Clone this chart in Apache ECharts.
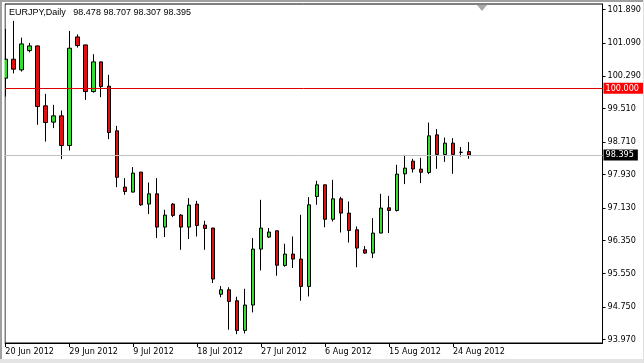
<!DOCTYPE html>
<html>
<head>
<meta charset="utf-8">
<script src="https://cdn.jsdelivr.net/npm/echarts@6/dist/echarts.min.js"></script>
<style>
html,body{margin:0;padding:0;background:#fff;}
#chart{width:644px;height:363px;}
</style>
</head>
<body>
<div id="chart"></div>
<script>
// Daily bars (MT4 style, includes Sunday bars)
const dates = ["20 Jun 2012","21 Jun 2012","22 Jun 2012","24 Jun 2012","25 Jun 2012","26 Jun 2012","27 Jun 2012","28 Jun 2012","29 Jun 2012",
"1 Jul 2012","2 Jul 2012","3 Jul 2012","4 Jul 2012","5 Jul 2012","6 Jul 2012","8 Jul 2012","9 Jul 2012","10 Jul 2012","11 Jul 2012","12 Jul 2012","13 Jul 2012",
"15 Jul 2012","16 Jul 2012","17 Jul 2012","18 Jul 2012","19 Jul 2012","20 Jul 2012","22 Jul 2012","23 Jul 2012","24 Jul 2012","25 Jul 2012","26 Jul 2012","27 Jul 2012",
"29 Jul 2012","30 Jul 2012","31 Jul 2012","1 Aug 2012","2 Aug 2012","3 Aug 2012","5 Aug 2012","6 Aug 2012","7 Aug 2012","8 Aug 2012","9 Aug 2012","10 Aug 2012",
"12 Aug 2012","13 Aug 2012","14 Aug 2012","15 Aug 2012","16 Aug 2012","17 Aug 2012","19 Aug 2012","20 Aug 2012","21 Aug 2012","22 Aug 2012","23 Aug 2012","24 Aug 2012",
"26 Aug 2012","27 Aug 2012"];
const open  = [100.240,100.695,100.439,100.902,101.014,99.576,99.185,99.336,98.624,101.230,101.038,99.918,100.631,100.048,98.976,97.626,97.506,97.986,97.218,97.465,96.667,97.218,96.954,96.667,97.218,96.715,96.643,95.055,95.163,94.899,94.187,94.796,96.139,96.427,96.578,95.746,96.019,95.899,95.242,97.400,97.681,96.854,97.345,97.002,96.602,96.122,96.043,96.523,97.129,97.065,97.945,98.249,98.058,97.976,98.880,98.408,98.681,98.460,98.478];
const high  = [101.422,101.614,101.213,101.086,101.020,99.863,99.600,99.463,101.374,101.290,101.045,100.815,100.640,100.319,99.096,97.842,98.106,97.990,97.736,97.842,97.082,97.242,96.978,97.362,97.297,96.818,96.650,95.252,95.223,94.995,95.187,96.403,97.321,96.645,96.585,96.266,96.441,96.962,97.386,97.777,97.685,97.801,97.393,97.281,96.681,96.211,96.882,97.465,97.417,98.161,98.400,98.305,98.329,99.175,99.017,98.815,98.801,98.588,98.707];
const low   = [99.799,100.355,100.398,100.859,99.120,98.719,99.041,98.297,98.504,100.974,99.719,99.894,99.784,98.777,97.626,97.441,97.496,97.177,96.978,96.403,96.427,96.906,96.122,96.379,96.441,96.122,95.324,94.983,94.204,94.096,94.115,94.619,95.626,96.403,95.499,95.715,95.683,94.899,95.002,97.201,96.662,96.801,96.537,96.297,95.703,96.026,95.923,96.518,96.523,97.041,97.698,97.976,97.722,97.938,98.065,98.233,97.945,98.360,98.307];
const close = [100.695,100.456,101.062,101.014,99.559,99.175,99.336,98.624,100.959,101.022,99.918,100.631,100.038,98.935,97.861,97.520,97.962,97.201,97.465,96.667,96.954,96.945,96.667,97.194,96.705,96.633,95.420,95.163,94.883,94.187,94.796,96.139,96.643,96.547,95.751,96.019,95.899,95.242,97.201,97.681,96.854,97.345,97.002,96.585,96.163,96.043,96.523,97.122,97.065,97.938,98.082,98.060,97.981,98.856,98.408,98.681,98.408,98.462,98.395];
const priceTicks = [101.890,101.090,100.290,99.510,98.710,97.930,97.130,96.350,95.550,94.750,93.970];
const dateTickIdx = [0,8,16,24,32,40,48,56];
const levelLine = 100.000;
const title = "EURJPY,Daily   98.478 98.707 98.307 98.395";

const FONT = "'DejaVu Sans Condensed','Liberation Sans',sans-serif";
const TFONT = "'Liberation Sans',Arial,sans-serif";
const data = dates.map((d,i)=>[i, open[i], close[i], low[i], high[i]]);
const lastClose = close[close.length-1];
const fmt3 = v => (Math.round(Number(v)*1000 + 1e-6)/1000).toFixed(3);

const chart = echarts.init(document.getElementById('chart'), null, {renderer:'canvas'});
chart.setOption({
  animation:false,
  backgroundColor:'#fff',
  title:{text:title,left:9,top:8,padding:0,
    textStyle:{fontSize:9,fontWeight:'normal',color:'#000',fontFamily:TFONT}},
  grid:{left:5,right:41,top:4,bottom:20,show:true,borderColor:'#000',borderWidth:1,backgroundColor:'#fff'},
  xAxis:{type:'value',min:-0.04,max:74.71,
    axisLine:{show:true,onZero:false,lineStyle:{color:'#000',width:1}},
    axisTick:{show:true,length:4,inside:false,customValues:dateTickIdx,lineStyle:{color:'#000'}},
    axisLabel:{show:true,customValues:dateTickIdx,align:'left',margin:4,fontSize:9,color:'#000',fontFamily:FONT,
      formatter:v=>dates[Math.round(v)]||''},
    splitLine:{show:false}},
  yAxis:{type:'value',position:'right',min:93.885,max:102.02,scale:true,
    axisLine:{show:true,onZero:false,lineStyle:{color:'#000',width:1}},
    axisTick:{show:true,length:3,inside:false,customValues:priceTicks,lineStyle:{color:'#000'}},
    axisLabel:{show:true,customValues:priceTicks,margin:5,fontSize:9,color:'#000',fontFamily:FONT,
      formatter:v=>fmt3(v)},
    splitLine:{show:false}},
  series:[{
    type:'candlestick',
    data:data,
    encode:{x:0,y:[1,2,3,4]},
    barWidth:4,
    clip:true,
    itemStyle:{color:'#33dd33',color0:'#dd1111',borderColor:'#000',borderColor0:'#000',borderColorDoji:'#000',borderWidth:1},
    markLine:{symbol:'none',silent:true,animation:false,precision:3,
      data:[
        {yAxis:levelLine,lineStyle:{color:'#dd0000',width:1,type:'solid'},
          label:{show:true,position:'end',distance:1,formatter:()=>fmt3(levelLine),
            backgroundColor:'#ff0000',color:'#fff',fontSize:9,fontFamily:FONT,padding:[1,4,1,2],lineHeight:9}},
        {yAxis:lastClose,lineStyle:{color:'#c0c0c0',width:1,type:'solid'},
          label:{show:true,position:'end',distance:1,formatter:()=>fmt3(lastClose),
            backgroundColor:'#000',color:'#fff',fontSize:9,fontFamily:FONT,padding:[1,4,1,2],lineHeight:9}}
      ]}
  }],
  graphic:[
    {type:'rect',silent:true,z:100,shape:{x:2,y:4,width:2.5,height:340},style:{fill:'#fff'}},
    {type:'rect',silent:true,z:100,shape:{x:0,y:0,width:644,height:2},style:{fill:'#a0a0a0'}},
    {type:'rect',silent:true,z:100,shape:{x:0,y:0,width:2,height:363},style:{fill:'#a0a0a0'}},
    {type:'rect',silent:true,z:100,shape:{x:0,y:359,width:644,height:4},style:{fill:'#e4e4e4'}},
    {type:'rect',silent:true,z:100,shape:{x:643,y:0,width:1,height:363},style:{fill:'#e0e0e0'}},
    {type:'polygon',silent:true,z:100,shape:{points:[[477,5],[487,5],[482,11]]},style:{fill:'#a8a8a8'}}
  ]
});
</script>
</body>
</html>
